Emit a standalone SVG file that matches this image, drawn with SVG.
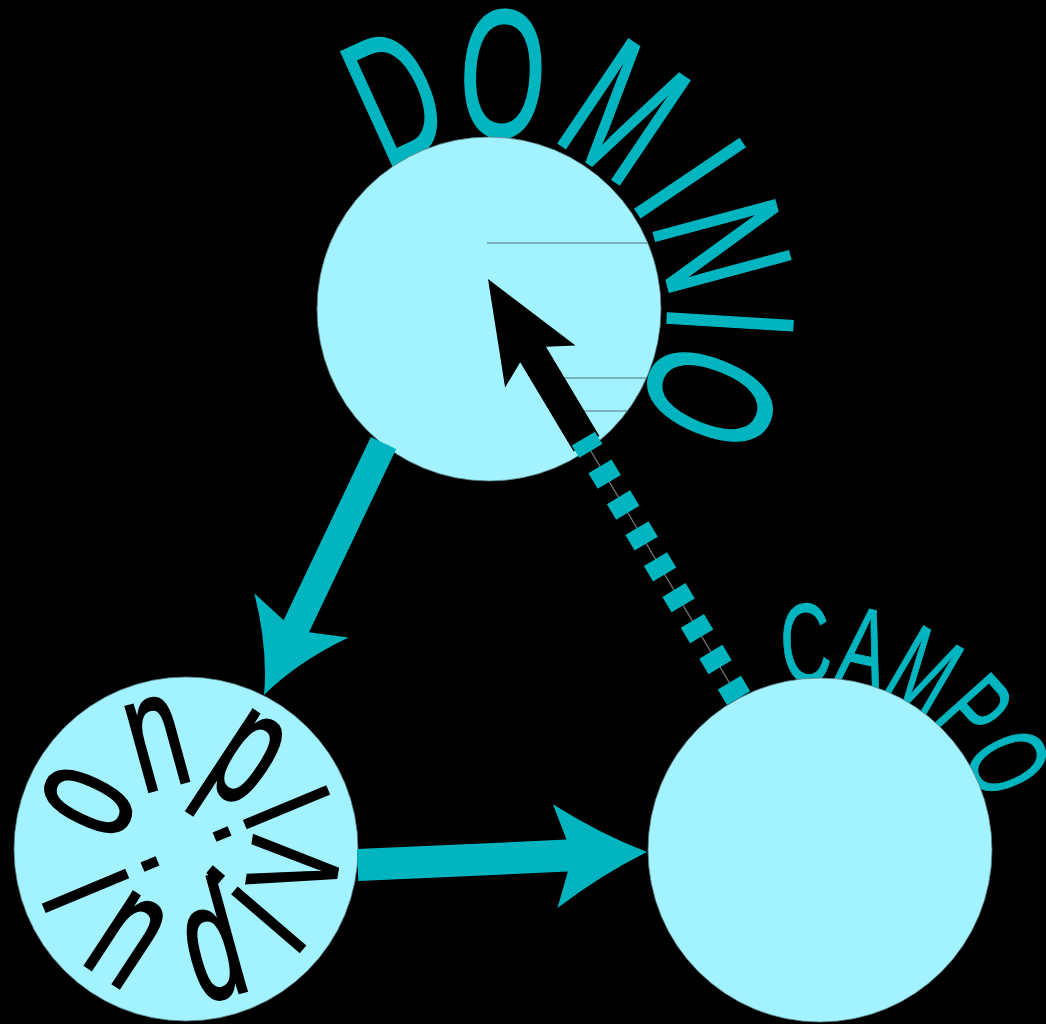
<svg xmlns="http://www.w3.org/2000/svg" width="1046" height="1024" viewBox="0 0 1046 1024">
<style>
.bg{fill:#000}
.node{fill:#a2f3ff;stroke:#5e7f85;stroke-width:0.8}
.t{font-family:"Liberation Sans",Arial,sans-serif;text-anchor:middle}
.tl{fill:#00b5c0;stroke:#00b5c0;stroke-width:2;font-size:182px}
.tc{fill:#00b5c0;stroke:#00b5c0;stroke-width:1;font-size:113px}
.ti{fill:#000;stroke:#000;stroke-width:2.2;font-size:167px}
.arrow{fill:#00b5c0}
.hl{stroke:#6b9ca3;stroke-width:1.3;fill:none}
</style>
<rect class="bg" x="0" y="0" width="1046" height="1024"/>
<g id="node-dominio">
  <g class="t tl">
    <text x="0" y="62.6" transform="translate(395 96) rotate(-24.5) scale(0.61 1)">D</text>
    <text x="0" y="62.6" transform="translate(503 74) rotate(3) scale(0.61 1)">O</text>
    <text x="0" y="62.6" transform="translate(624 112) rotate(34) scale(0.61 1)">M</text>
    <text x="0" y="62.6" transform="translate(690 178) rotate(56) scale(0.61 1)">I</text>
    <text x="0" y="62.6" transform="translate(722 246) rotate(75) scale(0.61 1)">N</text>
    <text x="0" y="62.6" transform="translate(730 322) rotate(93.5) scale(0.61 1)">I</text>
    <text x="0" y="62.6" transform="translate(710 397) rotate(112) scale(0.61 1)">O</text>
  </g>
  <circle class="node" cx="489" cy="309" r="172"/>
  <line class="hl" x1="487" y1="243" x2="647.5" y2="243"/>
  <line class="hl" x1="560" y1="378" x2="646" y2="378"/>
  <line class="hl" x1="580" y1="411" x2="627" y2="411"/>
</g>
<g id="node-campo">
  <g class="t tc">
    <text x="0" y="38.9" transform="translate(805.6 643.5) rotate(-4) scale(0.62 1)">C</text>
    <text x="0" y="38.9" transform="translate(864.4 647.8) rotate(12.4) scale(0.62 1)">A</text>
    <text x="0" y="38.9" transform="translate(924.1 671.1) rotate(30.2) scale(0.62 1)">M</text>
    <text x="0" y="38.9" transform="translate(973.8 711.5) rotate(48) scale(0.62 1)">P</text>
    <text x="0" y="38.9" transform="translate(1007.6 762.5) rotate(65) scale(0.62 1)">O</text>
  </g>
  <circle class="node" cx="820" cy="850" r="172"/>
</g>
<g id="node-individuo">
  <circle class="node" cx="186" cy="849" r="172"/>
  <g class="t ti">
    <text transform="rotate(67.3 186 849) translate(186 1002) scale(0.6 1)">i</text>
    <text transform="rotate(33.3 186 849) translate(186 1002) scale(0.6 1)">n</text>
    <text transform="rotate(-15.4 186 849) translate(186 1002) scale(0.6 1)">d</text>
    <text transform="rotate(-49.4 186 849) translate(186 1002) scale(0.6 1)">i</text>
    <text transform="rotate(-81 186 849) translate(186 1002) scale(0.6 1)">v</text>
    <text transform="rotate(-112.6 186 849) translate(186 1002) scale(0.6 1)">i</text>
    <text transform="rotate(-146.6 186 849) translate(186 1002) scale(0.6 1)">d</text>
    <text transform="rotate(164.7 186 849) translate(186 1002) scale(0.6 1)">u</text>
    <text transform="rotate(116.1 186 849) translate(186 1002) scale(0.6 1)">o</text>
  </g>
</g>
<g id="connectors">
  <path id="e-dominio-individuo" class="arrow" d="M 370.8 437 L 283.6 620.2 L 254.3 593.3 Q 268.2 648.4 264 695 Q 297.2 662 348.5 637.5 L 309 632.2 L 396.2 449 Z"/>
  <path id="e-individuo-campo" class="arrow" d="M 356.9 849 L 566.5 839.6 L 552.9 804.2 Q 600.2 834.1 647 852 Q 602 874.1 557.5 908 L 567.9 871.6 L 358.3 881 Z"/>
  <g id="e-campo-dominio">
    <path fill="#000" d="M 488 279 L 575.5 345.5 L 546 346.8 L 599.4 436 L 573.6 451.4 L 520.2 362.2 L 505.1 387.5 Z"/>
    <line x1="738.6" y1="698.1" x2="590.6" y2="450.6" stroke="#777" stroke-width="1.2"/>
    <line x1="738.6" y1="698.1" x2="583.4" y2="438.6" stroke="#00b5c0" stroke-width="27" stroke-dasharray="18 18"/>
  </g>
</g>
</svg>
